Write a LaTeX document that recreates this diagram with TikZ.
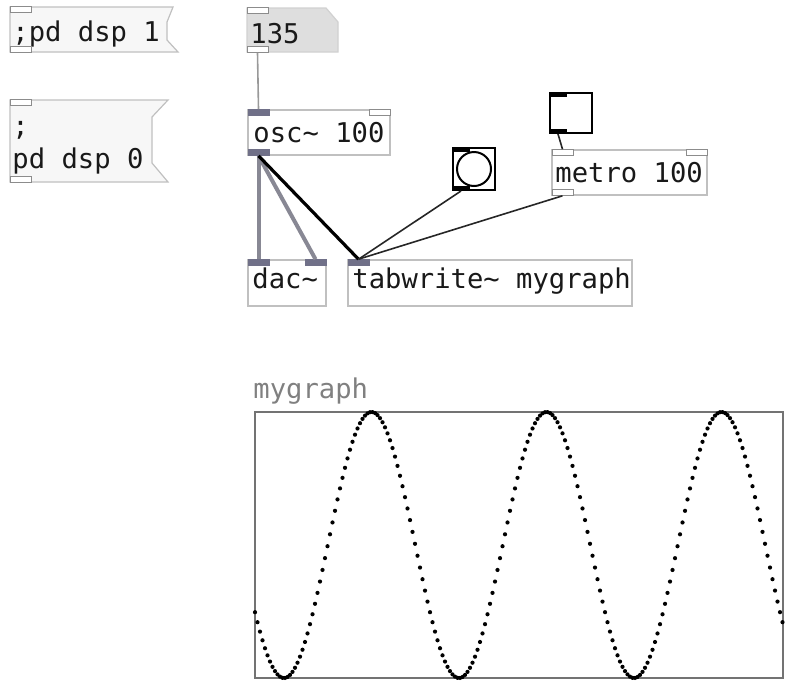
\documentclass[tikz,border=0pt]{standalone}
\usepackage{fontspec}
\newfontfamily\pdfont{DejaVu Sans Mono}
\usepackage{tikz}
\definecolor{boxgray}{RGB}{192,192,192}
\definecolor{siggray}{RGB}{112,112,136}
\definecolor{wiregray}{RGB}{136,136,148}
\tikzset{
  objbox/.style={draw=boxgray,line width=0.6pt,fill=white},
  msgbox/.style={draw=boxgray,line width=0.6pt,fill=black!3},
  pdlabel/.style={font=\pdfont\fontsize{13.6}{16.5}\selectfont,anchor=base west,inner sep=0pt,text=black!90},
  ctlport/.style={draw=black!45,fill=white,line width=0.5pt,minimum width=10.5pt,minimum height=2.8pt,inner sep=0pt},
  sigport/.style={ctlport,draw=siggray,fill=siggray},
  guiport/.style={ctlport,draw=black,fill=black,minimum width=8pt,minimum height=2pt},
  sigwire/.style={draw=wiregray,line width=2pt},
  ctlwire/.style={draw=black!85,line width=0.8pt},
}

\begin{document}
\begin{tikzpicture}[x=0.5pt,y=-0.5pt]
\useasboundingbox (0,0) rectangle (785,681);
% message boxes
\filldraw[msgbox] (10,7) -- (173,7) -- (167,22) -- (167,40) -- (178,52) -- (10,52) -- cycle;
\filldraw[msgbox] (10,100) -- (168,100) -- (152,117) -- (152,163) -- (168,182) -- (10,182) -- cycle;
\node[pdlabel] (dspon) at (12,41) {;pd dsp 1};
\node[pdlabel,align=left] (dspoff) at (12,168) {;\\pd dsp 0};
\node[ctlport] (dspon-in) at (20.5,9.5) {};
\node[ctlport] (dspon-out) at (20.5,49.5) {};
\node[ctlport] (dspoff-in) at (20.5,102.5) {};
\node[ctlport] (dspoff-out) at (20.5,179.5) {};
% number box
\filldraw[fill=black!13,draw=black!18,line width=0.6pt] (247,8) -- (326,8) -- (338,22) -- (338,52) -- (247,52) -- cycle;
\node[pdlabel] (num) at (250,43) {135};
\node[ctlport] (num-in) at (257.5,10.5) {};
\node[ctlport] (num-out) at (257.5,49.5) {};
% osc~
\filldraw[objbox] (248,110) rectangle (390,155);
\node[pdlabel] (osc) at (253,142) {osc\char`~{} 100};
\node[sigport] (osc-in) at (258.5,112.5) {};
\node[ctlport] (osc-inr) at (379.5,112.5) {};
\node[sigport] (osc-out) at (258.5,152.5) {};
% bang
\draw[line width=1.2pt] (453,148) rectangle (495,190);
\draw[line width=1pt] (474,169) circle (8.5pt);
\node[guiport] (bang-in) at (461,149.5) {};
\node[guiport] (bang-out) at (461,188.5) {};
% toggle
\draw[line width=1.4pt] (550,93) rectangle (592,133);
\node[guiport] (tgl-in) at (558,94.5) {};
\node[guiport] (tgl-out) at (558,131.5) {};
% metro
\filldraw[objbox] (552,150) rectangle (707,195);
\node[pdlabel] (metro) at (555,182) {metro 100};
\node[ctlport] (metro-in) at (562.5,152.5) {};
\node[ctlport] (metro-inr) at (696.5,152.5) {};
\node[ctlport] (metro-out) at (562.5,192.5) {};
% dac~ and tabwrite~
\filldraw[objbox] (248,260) rectangle (326,306);
\node[pdlabel] (dac) at (252,288) {dac\char`~};
\node[sigport] (dac-inl) at (258.5,262.5) {};
\node[sigport] (dac-inr) at (315.5,262.5) {};
\filldraw[objbox] (348,260) rectangle (632,306);
\node[pdlabel] (tabw) at (352,288) {tabwrite\char`~{} mygraph};
\node[sigport] (tab-in) at (358.5,262.5) {};
% wires
\draw[draw=black!40,line width=0.8pt] (num-out.south) -- (osc-in.north);
\draw[sigwire] (osc-out.south) -- (dac-inl.north);
\draw[sigwire] (osc-out.south) -- (dac-inr.north);
\draw[line width=1.6pt] (osc-out.south) -- (tab-in.north);
\draw[ctlwire] (bang-out.south) -- (tab-in.north);
\draw[ctlwire] (metro-out.south) -- (tab-in.north);
\draw[ctlwire] (tgl-out.south) -- (metro-in.north);
% graph
\node[pdlabel,text=black!50] (glabel) at (253,398) {mygraph};
\draw[draw=black!55,line width=1pt] (255,412) rectangle (783,678);
\foreach \px in {255,257.5,...,783}
  \fill ({\px},{545+133*cos(2.0571*(\px-284))}) circle (1.05pt);
\end{tikzpicture}
\end{document}
